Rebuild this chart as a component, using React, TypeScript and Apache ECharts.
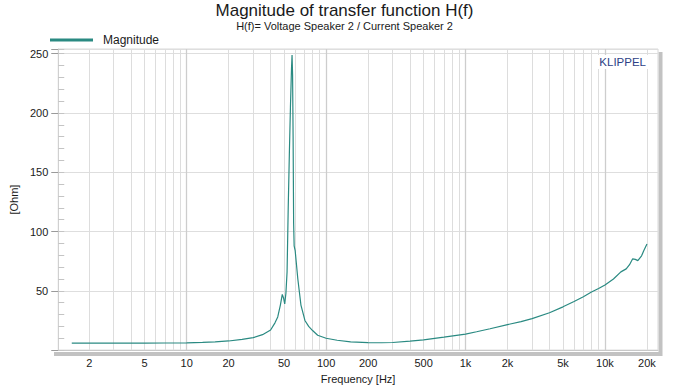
import React, { useEffect, useRef } from "react";
import * as echarts from "echarts";

const TITLE = "Magnitude of transfer function H(f)";
const SUBTITLE = "H(f)= Voltage Speaker 2 / Current Speaker 2";
const SERIES_NAME = "Magnitude";

const FREQ = [
  1.5, 2, 3, 5, 7, 10, 13, 16, 20, 25, 30, 35, 40, 43, 45, 47, 48.5, 49.5, 50.5,
  51.5, 52.5, 53.5, 54.5, 55.5, 56.5, 57, 57.5, 58, 58.5, 59, 60, 61, 62.7, 66,
  70.5, 75, 80, 87, 100, 120, 150, 200, 250, 300, 400, 500, 700, 1000, 1200,
  1500, 2000, 2500, 3000, 4000, 5000, 6000, 7000, 8000, 9000, 10000, 11500,
  13000, 14200, 15000, 15800, 16500, 17200, 18300, 19000, 20000,
];
const OHM = [
  5.8, 5.8, 5.8, 5.9, 6.0, 6.1, 6.5, 7.0, 7.7, 9.0, 10.5, 13, 17, 23, 28, 38,
  47, 44, 39, 48, 66, 120, 165, 205, 238, 249, 232, 180, 107, 88, 84, 75, 60,
  38, 25, 20, 16.5, 12.5, 10, 8.3, 7, 6.3, 6.2, 6.4, 7.5, 8.7, 11, 13.5, 15.5,
  18, 21.5, 24, 26.5, 31.5, 36.5, 41, 45, 49, 52, 55, 60, 66, 68.5, 72, 77,
  76.5, 75.5, 79.5, 84, 89.5,
];

const X_TICKS = [2, 5, 10, 20, 50, 100, 200, 500, 1000, 2000, 5000, 10000, 20000];
const X_GRID = [
  2, 3, 4, 5, 6, 7, 8, 9,
  10, 20, 30, 40, 50, 60, 70, 80, 90,
  100, 200, 300, 400, 500, 600, 700, 800, 900,
  1000, 2000, 3000, 4000, 5000, 6000, 7000, 8000, 9000,
  10000, 20000,
];
const X_DECADES = [10, 100, 1000, 10000];
const X_MIN = 1.2;
const X_MAX = 24000;
const Y_MIN = 0;
const Y_MAX = 254;

const FONT = "'Liberation Sans', Arial, sans-serif";

export default function App() {
  const ref = useRef<HTMLDivElement>(null);

  useEffect(() => {
    document.body.style.margin = "0";
    if (!ref.current) return;
    const chart = echarts.init(ref.current, undefined, { renderer: "svg" });
    const data = FREQ.map((f, i) => [f, OHM[i]]);
    const gridLines = X_GRID.map((v) => ({
      xAxis: v,
      lineStyle: X_DECADES.includes(v)
        ? { color: "#cdcdcd", width: 1.3, type: "solid" }
        : { color: "#dddddd", width: 1, type: "solid" },
    }));

    chart.setOption({
      animation: false,
      backgroundColor: "#ffffff",
      textStyle: { fontFamily: FONT },
      title: [
        {
          text: TITLE,
          left: "center",
          top: 2,
          padding: 0,
          textStyle: { fontSize: 17, fontWeight: "normal", color: "#1a1a1a", fontFamily: FONT },
        },
        {
          text: SUBTITLE,
          left: "center",
          top: 20,
          padding: 0,
          textStyle: { fontSize: 11, fontWeight: "normal", color: "#1a1a1a", fontFamily: FONT },
        },
      ],
      legend: {
        data: [SERIES_NAME],
        left: 50,
        top: 34,
        padding: 0,
        icon: "rect",
        itemWidth: 43,
        itemHeight: 3,
        textStyle: { fontSize: 12, color: "#1a1a1a", fontFamily: FONT, padding: [0, 0, 0, 5] },
      },
      grid: {
        left: 50,
        right: 31,
        top: 49,
        bottom: 37.5,
        show: true,
        backgroundColor: "#ffffff",
        borderColor: "#d8d8d8",
        borderWidth: 1,
      },
      xAxis: {
        type: "log",
        logBase: 10,
        min: X_MIN,
        max: X_MAX,
        name: "Frequency [Hz]",
        nameLocation: "middle",
        nameGap: 22,
        nameTextStyle: { fontSize: 11, color: "#1a1a1a", fontFamily: FONT },
        axisLine: { show: true, lineStyle: { color: "#c8c8c8" } },
        axisTick: { show: false },
        splitLine: { show: false },
        minorSplitLine: { show: false },
        axisLabel: {
          customValues: X_TICKS,
          margin: 7,
          fontSize: 11,
          color: "#1a1a1a",
          fontFamily: FONT,
          formatter: (v: number) => (v >= 1000 ? `${Math.round(v / 1000)}k` : `${Math.round(v)}`),
        },
      },
      yAxis: [
        {
          type: "value",
          min: Y_MIN,
          max: Y_MAX,
          interval: 50,
          name: "[Ohm]",
          nameLocation: "middle",
          nameGap: 36,
          nameRotate: 90,
          nameTextStyle: { fontSize: 11, color: "#1a1a1a", fontFamily: FONT },
          axisLine: { show: true, lineStyle: { color: "#d0d0d0" } },
          axisTick: { show: true, inside: false, length: 7, lineStyle: { color: "#9a9a9a" } },
          splitLine: { show: true, lineStyle: { color: "#dedede", width: 1.2 } },
          axisLabel: {
            margin: 10,
            fontSize: 11,
            color: "#1a1a1a",
            fontFamily: FONT,
            formatter: (v: number) => (v > 0 && v % 50 === 0 ? String(v) : ""),
          },
        },
        {
          type: "value",
          min: Y_MIN,
          max: Y_MAX,
          interval: 10,
          position: "left",
          axisLine: { show: false },
          axisLabel: { show: false },
          splitLine: { show: false },
          axisTick: { show: true, inside: true, length: 6, lineStyle: { color: "#c4c4c4" } },
        },
      ],
      graphic: [
        {
          type: "rect",
          z: -1,
          shape: { x: 54, y: 352, width: 608, height: 4 },
          style: { fill: "#c2c2c2" },
          silent: true,
        },
        {
          type: "rect",
          z: -1,
          shape: { x: 658.5, y: 52, width: 4, height: 304 },
          style: { fill: "#c2c2c2" },
          silent: true,
        },
        {
          type: "text",
          right: 41,
          top: 55,
          z: 100,
          style: {
            text: "KLIPPEL",
            fill: "#2e3f86",
            fontSize: 11.5,
            fontFamily: FONT,
            backgroundColor: "#ffffff",
            padding: [1, 2, 1, 2],
          },
          silent: true,
        },
      ],
      series: [
        {
          name: "gridlines",
          type: "line",
          data: [],
          z: 1,
          silent: true,
          markLine: {
            silent: true,
            symbol: ["none", "none"],
            label: { show: false },
            emphasis: { disabled: true },
            data: gridLines,
          },
        },
        {
          name: SERIES_NAME,
          type: "line",
          data,
          z: 5,
          showSymbol: false,
          symbol: "none",
          smooth: false,
          lineStyle: { color: "#2a8a82", width: 1.2 },
          itemStyle: { color: "#2a8a82" },
        },
      ],
    });

    return () => chart.dispose();
  }, []);

  return <div ref={ref} style={{ width: 689, height: 389 }} />;
}
